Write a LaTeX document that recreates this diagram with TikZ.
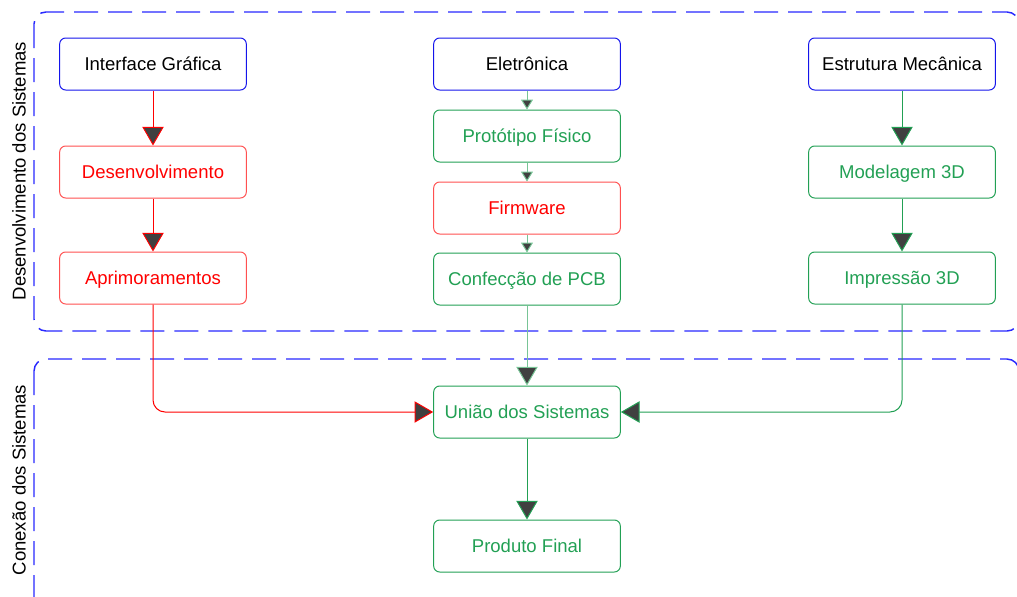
\documentclass[tikz,border=0pt]{standalone}
\usepackage{fontspec}
\setmainfont{Liberation Sans}
\usetikzlibrary{arrows.meta}
\definecolor{azul}{RGB}{40,40,255}
\definecolor{azulbloco}{RGB}{20,20,235}
\definecolor{vermelho}{RGB}{255,0,0}
\definecolor{vermelhoclaro}{RGB}{255,80,80}
\definecolor{verde}{RGB}{34,160,84}
\definecolor{verdeclaro}{RGB}{120,196,150}
\begin{document}
\begin{tikzpicture}[x=0.75pt,y=-0.75pt,font=\fontsize{13.9}{16}\selectfont,
  bloco/.style={draw,rounded corners=4.5pt,minimum width=140pt,minimum height=39pt,inner sep=0pt,line width=0.75pt,text depth=0.5pt},
  grupo/.style={draw=azul,line width=1.1pt,dash pattern=on 18pt off 7.5pt,rounded corners=9pt},
  seta/.style={line width=0.75pt,-{Triangle[width=16pt,length=14pt,fill=black!75]}},
  setinha/.style={line width=0.75pt,-{Triangle[width=9pt,length=7.5pt,fill=black!75]}}]
\useasboundingbox (0,0) rectangle (1017,596);
\clip (0,0) rectangle (1017,596);
% areas tracejadas
\draw[grupo] (34,12) rectangle (1019,331);
\draw[grupo] (34,359) rectangle (1019,614);
\node[rotate=90] (lbldes) at (19,171) {Desenvolvimento dos Sistemas};
\node[rotate=90] (lblcon) at (19,480) {Conexão dos Sistemas};
% blocos
\foreach \nome/\x/\y/\borda/\cor/\txt in {%
 int/153/64/azulbloco/black/{Interface Gráfica},
 dev/153/172/vermelhoclaro/vermelho/{Desenvolvimento},
 apr/153/278/vermelhoclaro/vermelho/{Aprimoramentos},
 ele/527/64/azulbloco/black/{Eletrônica},
 prot/527/136/verde/verde/{Protótipo Físico},
 firm/527/208/vermelhoclaro/vermelho/{Firmware},
 pcb/527/279/verde/verde/{Confecção de PCB},
 est/902/64/azulbloco/black/{Estrutura Mecânica},
 mod/902/172/verde/verde/{Modelagem 3D},
 imp/902/278/verde/verde/{Impressão 3D},
 uniao/527/412/verde/verde/{União dos Sistemas},
 prod/527/546/verde/verde/{Produto Final}}{
  \node[bloco,draw=\borda,text=\cor] (\nome) at (\x,\y) {\txt};}
% ligacoes
\draw[seta,draw=vermelho] (int) -- (dev);
\draw[seta,draw=vermelho] (dev) -- (apr);
\draw[setinha,draw=verdeclaro] (ele) -- (prot);
\draw[setinha,draw=verdeclaro] (prot) -- (firm);
\draw[setinha,draw=verdeclaro] (firm) -- (pcb);
\draw[seta,draw=verde] (est) -- (mod);
\draw[seta,draw=verde] (mod) -- (imp);
\draw[seta,draw=vermelho,rounded corners=9pt] (apr.south) |- (uniao.west);
\draw[seta,draw=verde,rounded corners=9pt] (imp.south) |- (uniao.east);
\draw[seta,draw=verdeclaro] (pcb) -- (uniao);
\draw[seta,draw=verde] (uniao) -- (prod);
\end{tikzpicture}
\end{document}
